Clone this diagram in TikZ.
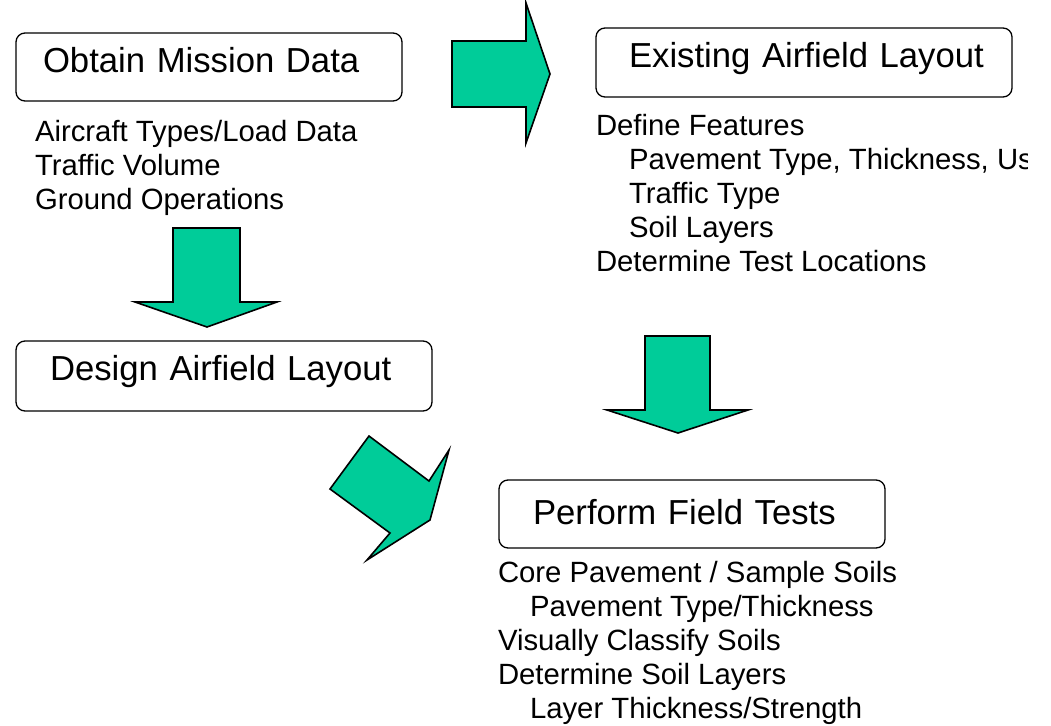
\documentclass[tikz,border=0pt]{standalone}
\usepackage{fontspec}
\setmainfont{Liberation Sans}
\definecolor{flowgreen}{RGB}{0,204,153}
\tikzset{
  stagebox/.style={draw=black, line width=1.3pt, rounded corners=9pt,
    inner ysep=0pt, outer sep=0pt, align=left, anchor=north west,
    font=\fontsize{34.7}{40}\selectfont},
  notes/.style={anchor=base west, inner sep=0pt, outer sep=0pt,
    font=\fontsize{29.3}{34}\selectfont},
  blockarrow/.style={fill=flowgreen, draw=black, line width=1.6pt,
    line join=miter},
}
\newcommand{\ind}{\hspace*{33pt}}
\begin{document}
\begin{tikzpicture}[x=1pt, y=-1pt]
  \useasboundingbox (0,0) rectangle (1051,725);

  % stage boxes with their titles
  \node[stagebox, inner xsep=27pt, text width=332pt, text height=39pt, text depth=29pt]
    (mission) at (16,33) {\mbox{Obtain Mission Data}};
  \node[stagebox, inner xsep=33pt, text width=350pt, text height=39pt, text depth=30pt]
    (existing) at (596,28) {\mbox{Existing Airfield Layout}};
  \node[stagebox, inner xsep=34pt, text width=348pt, text height=39pt, text depth=31pt]
    (design) at (16,341) {\mbox{Design Airfield Layout}};
  \node[stagebox, inner xsep=34pt, text width=318pt, text height=44pt, text depth=24pt]
    (field) at (499,480) {\mbox{Perform Field Tests}};

  % task lists under the boxes
  \node[notes] (missionnotes) at (35,141) {\begin{tabular}[t]{@{}l@{}}
    Aircraft Types/Load Data\\
    Traffic Volume\\
    Ground Operations
  \end{tabular}};

  \begin{scope}
    \clip (0,0) rectangle (1027,725);
    \node[notes] (existingnotes) at (596,135) {\begin{tabular}[t]{@{}l@{}}
      Define Features\\
      \ind Pavement Type, Thickness, Use\\
      \ind Traffic Type\\
      \ind Soil Layers\\
      Determine Test Locations
    \end{tabular}};
  \end{scope}

  \node[notes] (fieldnotes) at (498,582) {\begin{tabular}[t]{@{}l@{}}
    Core Pavement / Sample Soils\\
    \hspace*{32pt}Pavement Type/Thickness\\
    Visually Classify Soils\\
    Determine Soil Layers\\
    \hspace*{32pt}Layer Thickness/Strength
  \end{tabular}};

  % block arrows between the stages
  \draw[blockarrow] (452,41) -- (526,41) -- (526,3) -- (550,74)
    -- (526,143) -- (526,107) -- (452,107) -- cycle;
  \draw[blockarrow] (173,228) -- (240,228) -- (240,302) -- (277,302)
    -- (207,327) -- (135,302) -- (173,302) -- cycle;
  \draw[blockarrow] (645,336) -- (710,336) -- (710,410) -- (748,410)
    -- (678,433) -- (607,410) -- (645,410) -- cycle;
  \draw[blockarrow] (369,436) -- (429,481) -- (449,450) -- (430,520)
    -- (367,560) -- (390,533) -- (330,489) -- cycle;
\end{tikzpicture}
\end{document}
